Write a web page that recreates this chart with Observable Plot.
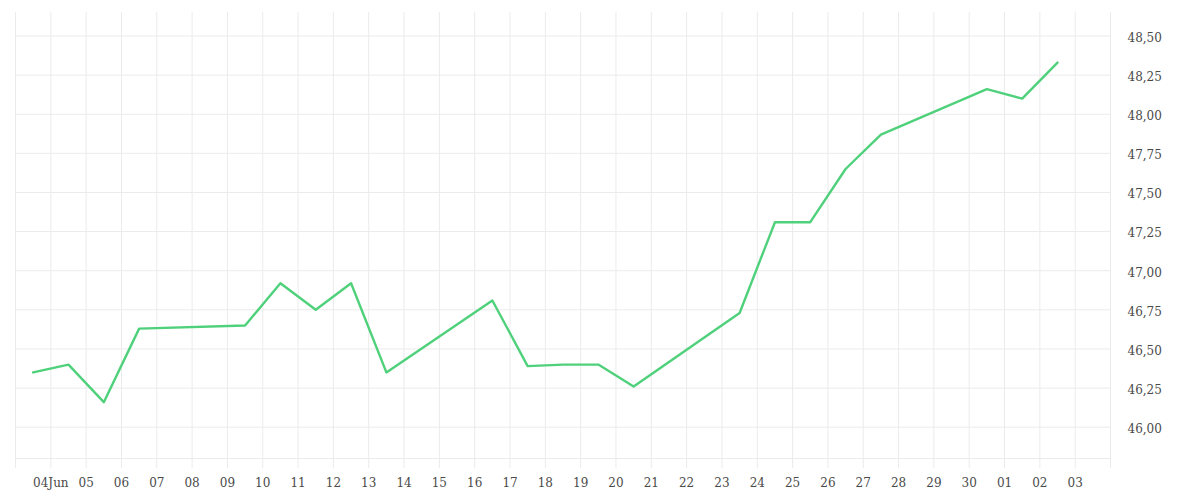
<!DOCTYPE html>
<html>
<head>
<meta charset="utf-8">
<script src="https://cdn.jsdelivr.net/npm/d3@7"></script>
<script src="https://cdn.jsdelivr.net/npm/@observablehq/plot@0.6"></script>
<style>
  html, body { margin: 0; padding: 0; background: #fff; }
</style>
</head>
<body>
<div id="chart"></div>
<script>
const dates = [
  "2025-06-03","2025-06-04","2025-06-05","2025-06-06",
  "2025-06-09","2025-06-10","2025-06-11","2025-06-12","2025-06-13",
  "2025-06-16","2025-06-17","2025-06-18","2025-06-19","2025-06-20",
  "2025-06-23","2025-06-24","2025-06-25","2025-06-26","2025-06-27",
  "2025-06-30","2025-07-01","2025-07-02"
];
const values = [
  46.35, 46.40, 46.16, 46.63,
  46.65, 46.92, 46.75, 46.92, 46.35,
  46.81, 46.39, 46.40, 46.40, 46.26,
  46.73, 47.31, 47.31, 47.65, 47.87,
  48.16, 48.10, 48.33
];
const tickLabels = [
  "04Jun","05","06","07","08","09","10","11","12","13","14","15","16","17","18",
  "19","20","21","22","23","24","25","26","27","28","29","30","01","02","03"
];
const yTicks = [46.00, 46.25, 46.50, 46.75, 47.00, 47.25, 47.50, 47.75, 48.00, 48.25, 48.50];
const yDomain = [45.80, 48.65];
const xStart = "2025-06-03";
const xEnd = "2025-07-04";

const parse = d3.utcParse("%Y-%m-%d");
const data = dates.map((d, i) => ({date: d3.utcHour.offset(parse(d), 12), value: values[i]}));
const x0 = parse(xStart), x1 = parse(xEnd);
const gridDates = d3.utcDay.range(x0, d3.utcDay.offset(x1, 1));
const tickDates = d3.utcDay.range(d3.utcDay.offset(x0, 1), x1);
const labelOf = new Map(tickDates.map((d, i) => [+d, tickLabels[i]]));
const gridColor = "#ebebeb";

const chart = Plot.plot({
  width: 1200,
  height: 500,
  marginLeft: 15,
  marginRight: 90,
  marginTop: 12,
  marginBottom: 42,
  style: {fontFamily: "'DejaVu Serif', serif", fontSize: "12px", color: "#444", background: "#fff"},
  x: {type: "utc", domain: [x0, x1], label: null},
  y: {domain: yDomain, label: null},
  marks: [
    Plot.gridY(yTicks, {stroke: gridColor, strokeOpacity: 1}),
    Plot.ruleY([yDomain[0]], {stroke: gridColor}),
    Plot.gridX(gridDates, {stroke: gridColor, strokeOpacity: 1}),
    Plot.axisX(gridDates, {tickSize: 10, stroke: gridColor, strokeOpacity: 1, tickFormat: () => "", label: null}),
    Plot.axisX(tickDates, {tickSize: 0, tickPadding: 20, tickFormat: d => labelOf.get(+d), label: null, fill: "#4a4a4a"}),
    Plot.axisY(yTicks, {anchor: "right", tickSize: 0, tickPadding: 17, textAnchor: "start", dy: 2,
      tickFormat: d => d.toFixed(2).replace(".", ","), label: null, fill: "#4a4a4a"}),
    Plot.line(data, {x: "date", y: "value", stroke: "#4fd17b", strokeWidth: 2.4})
  ]
});
document.getElementById("chart").appendChild(chart);
</script>
</body>
</html>
